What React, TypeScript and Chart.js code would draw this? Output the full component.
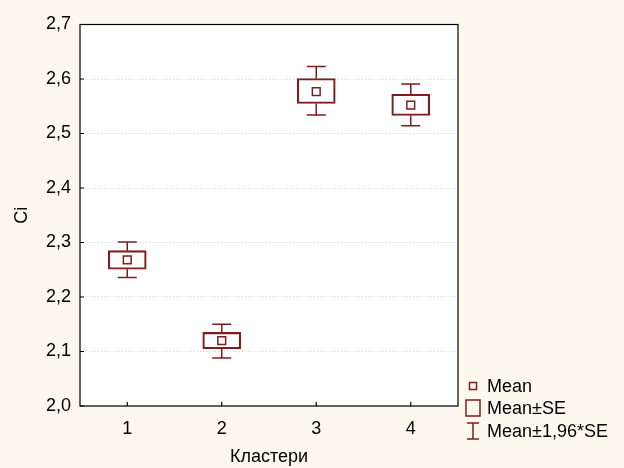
import React, { useEffect, useRef } from "react";
import { Chart, registerables } from "chart.js";

Chart.register(...registerables);

const categories = ["1", "2", "3", "4"];
const means = [2.268, 2.12, 2.577, 2.552];
const seLow = [2.251, 2.105, 2.555, 2.533];
const seHigh = [2.285, 2.135, 2.601, 2.572];
const ciLow = [2.236, 2.088, 2.534, 2.514];
const ciHigh = [2.301, 2.150, 2.623, 2.591];
const yTicks = [2.0, 2.1, 2.2, 2.3, 2.4, 2.5, 2.6, 2.7];
const legendLabels = ["Mean", "Mean±SE", "Mean±1,96*SE"];

const MARK = "#7d1d1d";
const BG = "#fdf8ed";
const FONT = "Liberation Sans, Arial, sans-serif";
const FS = 18;

export default function App() {
  const ref = useRef<HTMLCanvasElement | null>(null);

  useEffect(() => {
    if (!ref.current) return;
    const framePlugin = {
      id: "framePlugin",
      beforeDraw(chart: any) {
        const { ctx, width, height, chartArea: a } = chart;
        ctx.save();
        ctx.fillStyle = BG;
        ctx.fillRect(0, 0, width, height);
        ctx.fillStyle = "#ffffff";
        ctx.fillRect(a.left, a.top, a.right - a.left, a.bottom - a.top);
        ctx.restore();
      },
      afterDatasetsDraw(chart: any) {
        const { ctx, chartArea: a, scales } = chart;
        const xs = scales.x;
        const ys = scales.y;
        ctx.save();
        // whiskers
        ctx.strokeStyle = MARK;
        ctx.lineWidth = 1.5;
        for (let i = 0; i < categories.length; i++) {
          const px = xs.getPixelForValue(i);
          const segs = [
            [seHigh[i], ciHigh[i]],
            [seLow[i], ciLow[i]],
          ];
          for (const [from, to] of segs) {
            const y1 = ys.getPixelForValue(from);
            const y2 = ys.getPixelForValue(to);
            ctx.beginPath();
            ctx.moveTo(px, y1);
            ctx.lineTo(px, y2);
            ctx.moveTo(px - 9.5, y2);
            ctx.lineTo(px + 9.5, y2);
            ctx.stroke();
          }
        }
        // frame
        ctx.strokeStyle = "#000000";
        ctx.lineWidth = 1.2;
        ctx.strokeRect(a.left, a.top, a.right - a.left, a.bottom - a.top);
        // inward ticks
        ctx.beginPath();
        for (let i = 0; i < ys.ticks.length; i++) {
          const py = ys.getPixelForTick(i);
          ctx.moveTo(a.left, py);
          ctx.lineTo(a.left + 4, py);
        }
        for (let i = 0; i < categories.length; i++) {
          const px = xs.getPixelForValue(i);
          ctx.moveTo(px, a.bottom);
          ctx.lineTo(px, a.bottom - 4);
        }
        ctx.stroke();
        // legend
        const lx = 473;
        const rows = [386, 408, 431];
        ctx.fillStyle = "#000000";
        ctx.font = FS + "px " + FONT;
        ctx.textBaseline = "middle";
        ctx.textAlign = "left";
        ctx.strokeStyle = MARK;
        ctx.lineWidth = 1.5;
        ctx.strokeRect(lx - 3.5, rows[0] - 3.5, 7, 7);
        ctx.strokeRect(lx - 7, rows[1] - 8, 14, 16);
        ctx.beginPath();
        ctx.moveTo(lx - 6, rows[2] - 8);
        ctx.lineTo(lx + 6, rows[2] - 8);
        ctx.moveTo(lx, rows[2] - 8);
        ctx.lineTo(lx, rows[2] + 8);
        ctx.moveTo(lx - 6, rows[2] + 8);
        ctx.lineTo(lx + 6, rows[2] + 8);
        ctx.stroke();
        for (let i = 0; i < legendLabels.length; i++) {
          ctx.fillText(legendLabels[i], 487, rows[i] + 1);
        }
        ctx.restore();
      },
    };

    const chart = new Chart(ref.current, {
      type: "bar",
      data: {
        labels: categories,
        datasets: [
          {
            type: "bar",
            data: categories.map((_, i) => [seLow[i], seHigh[i]]),
            backgroundColor: "rgba(255,255,255,0)",
            borderColor: MARK,
            borderWidth: 1.5,
            borderSkipped: false,
            barThickness: 38,
          } as any,
          {
            type: "line",
            data: means,
            showLine: false,
            pointStyle: "rect",
            pointRadius: 5.5,
            pointBorderWidth: 1.5,
            pointBorderColor: MARK,
            pointBackgroundColor: "rgba(255,255,255,0)",
          } as any,
        ],
      },
      options: {
        animation: false,
        responsive: false,
        devicePixelRatio: 1,
        layout: { padding: { left: 0, right: 166, top: 24.5, bottom: 0 } },
        plugins: { legend: { display: false }, tooltip: { enabled: false } },
        scales: {
          x: {
            type: "category",
            offset: true,
            grid: { display: false, drawTicks: false },
            border: { display: false },
            ticks: { color: "#000", font: { size: FS, family: FONT }, padding: 12 },
            title: {
              display: true,
              text: "Кластери",
              color: "#000",
              font: { size: FS, family: FONT },
              padding: { top: 9, bottom: 0 },
            },
            afterFit: (s: any) => {
              s.height = 62;
            },
          },
          y: {
            type: "linear",
            min: 2.0,
            max: 2.7,
            afterBuildTicks: (s: any) => {
              s.ticks = yTicks.map((v) => ({ value: v }));
            },
            grid: { color: "#d2d2d2", drawTicks: false, lineWidth: 1 },
            border: { display: false, dash: [1, 2] },
            ticks: {
              color: "#000",
              font: { size: FS, family: FONT },
              padding: 9,
              callback: (v: any) => Number(v).toFixed(1).replace(".", ","),
            },
            title: {
              display: true,
              text: "Ci",
              color: "#000",
              font: { size: FS, family: FONT },
              padding: { top: 11, bottom: 8 },
            },
            afterFit: (s: any) => {
              s.width = 80;
            },
          },
        },
      },
      plugins: [framePlugin],
    });
    return () => chart.destroy();
  }, []);

  return (
    <div style={{ position: "fixed", left: 0, top: 0, width: 624, height: 468, background: BG }}>
      <canvas ref={ref} width={624} height={468} style={{ width: 624, height: 468, display: "block" }} />
    </div>
  );
}
